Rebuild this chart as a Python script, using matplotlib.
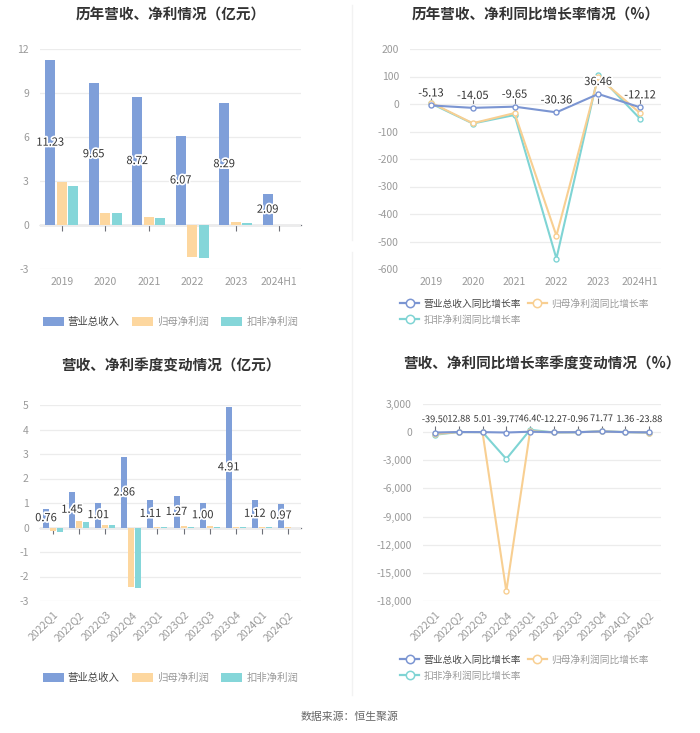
import matplotlib
matplotlib.use("Agg")
import matplotlib.pyplot as plt
import matplotlib.patheffects as pe
from matplotlib.patches import Patch
from matplotlib.lines import Line2D
import numpy as np

plt.rcParams['font.family'] = ['Noto Sans CJK SC', 'DejaVu Sans']

# ---------------- data ----------------
years = ['2019', '2020', '2021', '2022', '2023', '2024H1']
rev_year = [11.23, 9.65, 8.72, 6.07, 8.29, 2.09]
np_year = [2.95, 0.81, 0.55, -2.17, 0.18, 0.02]
npd_year = [2.68, 0.80, 0.46, -2.26, 0.11, 0.01]

rev_yoy_year = [-5.13, -14.05, -9.65, -30.36, 36.46, -12.12]
np_yoy_year = [5.0, -70.0, -33.0, -479.0, 97.0, -33.0]
npd_yoy_year = [2.0, -71.0, -40.0, -562.0, 106.0, -54.0]

quarters = ['2022Q1', '2022Q2', '2022Q3', '2022Q4', '2023Q1', '2023Q2',
            '2023Q3', '2023Q4', '2024Q1', '2024Q2']
rev_q = [0.76, 1.45, 1.01, 2.86, 1.11, 1.27, 1.00, 4.91, 1.12, 0.97]
np_q = [-0.15, 0.25, 0.12, -2.41, 0.02, 0.05, 0.05, 0.02, 0.02, 0.01]
npd_q = [-0.18, 0.24, 0.10, -2.45, 0.01, 0.04, 0.04, 0.01, 0.01, 0.00]

rev_yoy_q = [-39.50, 12.88, 5.01, -39.77, 46.40, -12.27, -0.96, 71.77, 1.36, -23.88]
np_yoy_q = [-200.0, 10.0, 5.0, -16950.0, 110.0, -20.0, -10.0, 80.0, 5.0, -40.0]
npd_yoy_q = [-280.0, 10.0, 0.0, -2860.0, 250.0, -30.0, -20.0, 100.0, 5.0, -50.0]

bar_names = ['营业总收入', '归母净利润', '扣非净利润']
line_names = ['营业总收入同比增长率', '归母净利润同比增长率', '扣非净利润同比增长率']

# ---------------- style ----------------
C_BLUE = '#7f9fd9'
C_ORANGE = '#fdd79f'
C_TEAL = '#85d6d9'
L_BLUE = '#7b95d2'
L_ORANGE = '#f8cf92'
L_TEAL = '#7fd4d4'
GRID = '#ececec'
TICK = '#9a9a9a'
AXIS = '#6e7079'
TXT = '#333333'

W, H = 700, 733
fig = plt.figure(figsize=(7.0, 7.33), dpi=100)
fig.patch.set_facecolor('white')


def px_axes(x0, y0, x1, y1):
    return fig.add_axes([x0 / W, 1 - y1 / H, (x1 - x0) / W, (y1 - y0) / H])


def style_axes(ax, cats, ylim, yticks, ytl, rotate=False):
    n = len(cats)
    ax.set_xlim(-0.5, n - 0.5)
    ax.set_ylim(*ylim)
    ax.set_yticks(yticks)
    ax.set_yticklabels(ytl, fontsize=7.5, color=TICK)
    ax.grid(axis='y', color=GRID, linewidth=0.9)
    ax.set_axisbelow(True)
    for s in ax.spines.values():
        s.set_visible(False)
    ax.tick_params(axis='y', length=0, pad=8)
    ax.set_xticks(range(n))
    if rotate:
        ax.set_xticklabels(cats, fontsize=7.5, color=TICK, rotation=45,
                           ha='right', rotation_mode='anchor')
    else:
        ax.set_xticklabels(cats, fontsize=7.5, color=TICK)
    ax.tick_params(axis='x', length=0, pad=6)
    # zero axis line with ticks
    loc = (0 - ylim[0]) / (ylim[1] - ylim[0])
    sec = ax.secondary_xaxis(loc)
    sec.set_xticks(range(n))
    sec.set_xticklabels([''] * n)
    sec.tick_params(axis='x', length=4, width=0.8, color=AXIS, direction='out')
    sec.spines['bottom'].set_color(AXIS)
    sec.spines['bottom'].set_linewidth(0.9)
    for k in ['top', 'left', 'right']:
        sec.spines[k].set_visible(False)


halo = [pe.withStroke(linewidth=2.5, foreground='white')]


def bar_panel(ax, cats, rev, np_, npd, width, off):
    x = np.arange(len(cats))
    ax.bar(x - off, rev, width, color=C_BLUE, zorder=2)
    ax.bar(x, np_, width, color=C_ORANGE, zorder=2)
    ax.bar(x + off, npd, width, color=C_TEAL, zorder=2)
    for xi, v in zip(x, rev):
        ax.text(xi - off, v / 2, f'{v:.2f}', ha='center', va='center',
                fontsize=8, color=TXT, path_effects=halo, zorder=5)


def line_panel(ax, cats, r, a, b, lab_off, fs):
    x = np.arange(len(cats))
    kw = dict(marker='o', markersize=3.6, markerfacecolor='white',
              markeredgewidth=1.0, linewidth=1.5, zorder=3)
    ax.plot(x, b, color=L_TEAL, **kw)
    ax.plot(x, a, color=L_ORANGE, **kw)
    ax.plot(x, r, color=L_BLUE, **kw)
    for xi, v in zip(x, r):
        ax.annotate(f'{v:.2f}', (xi, v), xytext=(0, lab_off),
                    textcoords='offset points', ha='center', va='bottom',
                    fontsize=fs, color=TXT, path_effects=halo, zorder=6)


def color_legend(leg):
    for t, c in zip(leg.get_texts(), ['#444444', '#999999', '#999999']):
        t.set_color(c)


# ---------------- top-left ----------------
ax1 = px_axes(40, 49, 301, 269)
style_axes(ax1, years, (-3, 12), [-3, 0, 3, 6, 9, 12],
           ['-3', '0', '3', '6', '9', '12'])
bar_panel(ax1, years, rev_year, np_year, npd_year, 0.22, 0.265)
ax1.set_title('历年营收、净利情况（亿元）', fontsize=10.5, fontweight='bold',
              color=TXT, pad=0, y=1 + 29 / 220)
bh = [Patch(facecolor=c, edgecolor='none') for c in (C_BLUE, C_ORANGE, C_TEAL)]
leg = ax1.legend(bh, bar_names, loc='center', bbox_to_anchor=(0.5, -(322 - 269) / 220),
                 ncol=3, frameon=False, fontsize=7.5, handlelength=2.0,
                 handleheight=0.9, columnspacing=1.2, handletextpad=0.4)
color_legend(leg)

# ---------------- top-right ----------------
ax2 = px_axes(410, 49, 661, 269)
style_axes(ax2, years, (-600, 200), list(range(-600, 201, 100)),
           [str(v) for v in range(-600, 201, 100)])
line_panel(ax2, years, rev_yoy_year, np_yoy_year, npd_yoy_year, 5, 8)
ax2.set_title('历年营收、净利同比增长率情况（%）', fontsize=10.5, fontweight='bold',
              color=TXT, pad=0, y=1 + 29 / 220)
lkw = dict(marker='o', markersize=6, markerfacecolor='white', markeredgewidth=1.1,
           linewidth=1.6)
lh = [Line2D([], [], color=L_BLUE, **lkw), Line2D([], [], color=L_TEAL, **lkw),
      Line2D([], [], color=L_ORANGE, **lkw)]
ln = [line_names[0], line_names[2], line_names[1]]
leg2 = ax2.legend(lh, ln, loc='upper left',
                  bbox_to_anchor=((396 - 410) / 251, -(295 - 269) / 220),
                  ncol=2, frameon=False, fontsize=7, handlelength=2.0,
                  columnspacing=0.7, handletextpad=0.4, labelspacing=0.6,
                  borderaxespad=0)
color_legend(leg2)

# ---------------- bottom-left ----------------
ax3 = px_axes(40, 405, 301, 601)
style_axes(ax3, quarters, (-3, 5), list(range(-3, 6)),
           [str(v) for v in range(-3, 6)], rotate=True)
bar_panel(ax3, quarters, rev_q, np_q, npd_q, 0.23, 0.27)
ax3.set_title('营收、净利季度变动情况（亿元）', fontsize=10.5, fontweight='bold',
              color=TXT, pad=0, y=1 + 34 / 196)
leg3 = ax3.legend(bh, bar_names, loc='center', bbox_to_anchor=(0.5, -(678 - 601) / 196),
                  ncol=3, frameon=False, fontsize=7.5, handlelength=2.0,
                  handleheight=0.9, columnspacing=1.2, handletextpad=0.4)
color_legend(leg3)

# ---------------- bottom-right ----------------
ax4 = px_axes(423, 404, 661, 601)
yt4 = list(range(-18000, 3001, 3000))
style_axes(ax4, quarters, (-18000, 3000), yt4, [f'{v:,}' for v in yt4], rotate=True)
line_panel(ax4, quarters, rev_yoy_q, np_yoy_q, npd_yoy_q, 6, 6.6)
ax4.set_title('营收、净利同比增长率季度变动情况（%）', fontsize=10.5, fontweight='bold',
              color=TXT, pad=0, y=1 + 35 / 197)
leg4 = ax4.legend(lh, ln, loc='upper left',
                  bbox_to_anchor=((396 - 423) / 238, -(651 - 601) / 197),
                  ncol=2, frameon=False, fontsize=7, handlelength=2.0,
                  columnspacing=0.7, handletextpad=0.4, labelspacing=0.6,
                  borderaxespad=0)
color_legend(leg4)

# separators and footer
fig.add_artist(Line2D([351.5 / W] * 2, [1 - 5 / H, 1 - 240 / H], color='#f2f2f2', linewidth=1))
fig.add_artist(Line2D([351.5 / W] * 2, [1 - 252 / H, 1 - 695 / H], color='#f2f2f2', linewidth=1))
fig.text(350 / W, 1 - 717 / H, '数据来源：恒生聚源', ha='center', va='center',
         fontsize=7.8, color='#666666')

fig.savefig('out.png', dpi=100, facecolor='white')
